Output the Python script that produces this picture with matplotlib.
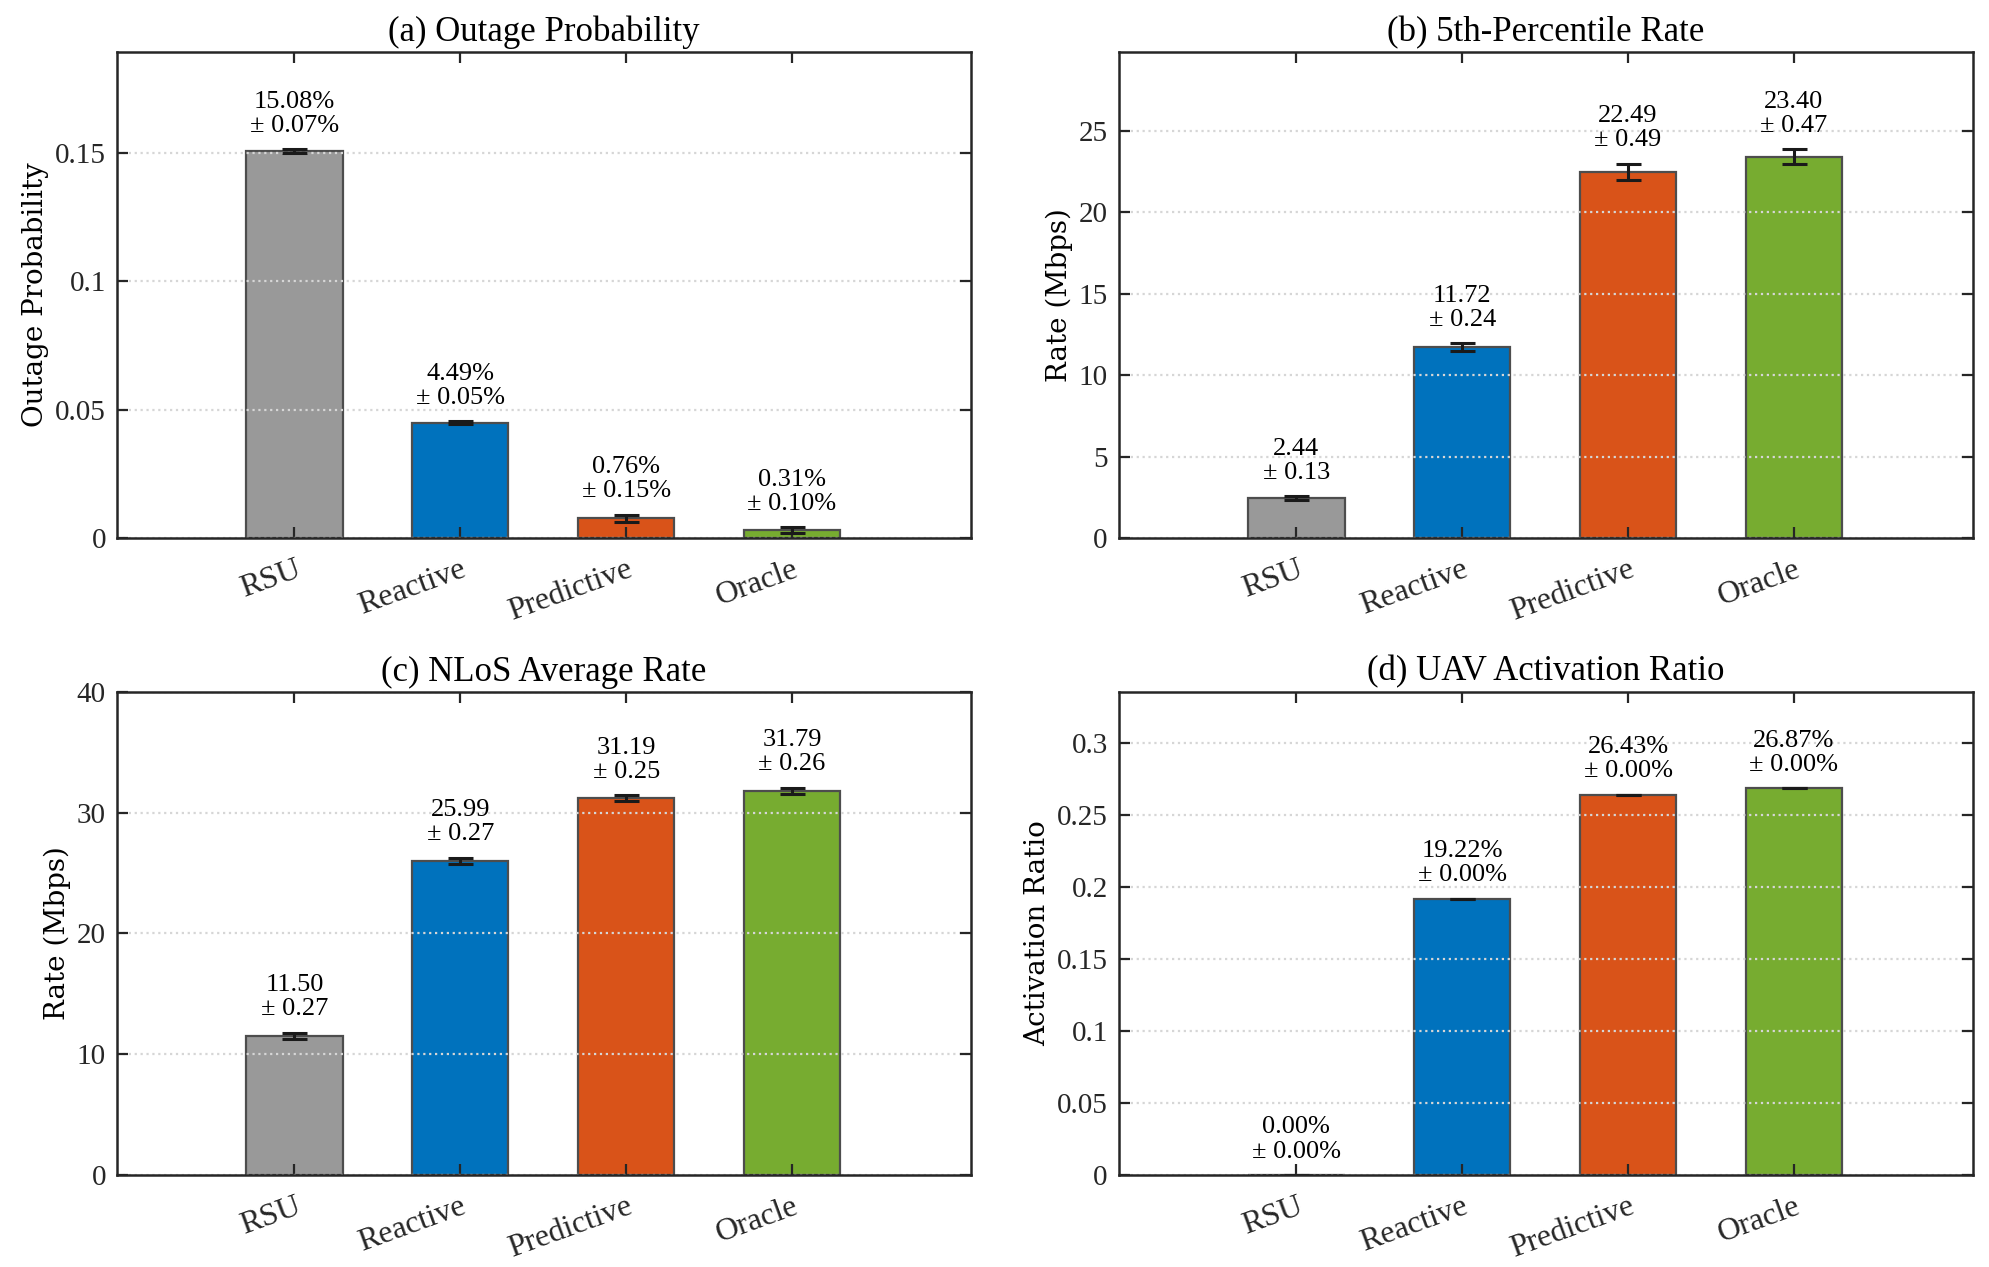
import matplotlib
matplotlib.use('Agg')
import matplotlib.pyplot as plt
from matplotlib.ticker import FuncFormatter

# Datos
methods = ['RSU', 'Reactive', 'Predictive', 'Oracle']
colors = ['#999999', '#0072BD', '#D95319', '#77AC30']

outage_mean = [0.1508, 0.0449, 0.0076, 0.0031]
outage_std = [0.0007, 0.0005, 0.0015, 0.0010]

p5_mean = [2.44, 11.72, 22.49, 23.40]
p5_std = [0.13, 0.24, 0.49, 0.47]

nlos_mean = [11.50, 25.99, 31.19, 31.79]
nlos_std = [0.27, 0.27, 0.25, 0.26]

act_mean = [0.0, 0.1922, 0.2643, 0.2687]
act_std = [0.0, 0.0, 0.0, 0.0]

plt.rcParams['font.family'] = ['Liberation Serif', 'DejaVu Serif']

fig = plt.figure(figsize=(19.9, 12.67), dpi=100)

panels = [
    ('(a) Outage Probability', 'Outage Probability', outage_mean, outage_std, True,
     [0, 0.05, 0.1, 0.15], 0.1894, [0.0588, 0.5754, 0.4292, 0.3836]),
    ('(b) 5th-Percentile Rate', 'Rate (Mbps)', p5_mean, p5_std, False,
     [0, 5, 10, 15, 20, 25], 29.84, [0.5623, 0.5754, 0.4292, 0.3836]),
    ('(c) NLoS Average Rate', 'Rate (Mbps)', nlos_mean, nlos_std, False,
     [0, 10, 20, 30, 40], 40, [0.0588, 0.0726, 0.4292, 0.3814]),
    ('(d) UAV Activation Ratio', 'Activation Ratio', act_mean, act_std, True,
     [0, 0.05, 0.1, 0.15, 0.2, 0.25, 0.3], 0.3359, [0.5623, 0.0726, 0.4292, 0.3814]),
]

x = [1, 2, 3, 4]

for title, ylabel, mean, std, pct, yticks, ytop, rect in panels:
    ax = fig.add_axes(rect)
    ax.bar(x, mean, width=0.58, color=colors, edgecolor='#4d4d4d', linewidth=1.6, zorder=1)
    ax.errorbar(x, mean, yerr=std, fmt='none', ecolor='#1a1a1a', elinewidth=2.2,
                capsize=9, capthick=2.2, zorder=4)

    # Etiquetas sobre las barras
    for xi, m, s in zip(x, mean, std):
        if pct:
            txt = f'{m*100:.2f}%\n± {s*100:.2f}%'
        else:
            txt = f'{m:.2f}\n± {s:.2f}'
        ax.annotate(txt, (xi, m + s), xytext=(0, 9), textcoords='offset points',
                    ha='center', va='bottom', fontsize=19, linespacing=1.12, zorder=5)

    ax.set_xlim(-0.07, 5.08)
    ax.set_ylim(0, ytop)
    ax.set_yticks(yticks)
    ax.yaxis.set_major_formatter(FuncFormatter(lambda v, p: f'{v:g}'))
    ax.set_xticks(x)
    ax.set_xticklabels(methods, rotation=20, ha='right', va='top',
                       rotation_mode='anchor', fontsize=23)
    ax.tick_params(axis='y', labelsize=21)
    ax.tick_params(direction='in', length=8, width=1.6, top=True, right=True,
                   colors='#262626', pad=8)
    ax.tick_params(axis='x', pad=12)
    for sp in ax.spines.values():
        sp.set_linewidth(1.8)
        sp.set_color('#262626')
        sp.set_zorder(6)

    ax.set_axisbelow(False)
    ax.yaxis.grid(True, linestyle=':', color='#d6d6d6', linewidth=1.6)
    ax.set_title(title, fontsize=25, pad=8)
    ax.set_ylabel(ylabel, fontsize=20, family='DejaVu Serif')

fig.savefig('out.png', dpi=100)
